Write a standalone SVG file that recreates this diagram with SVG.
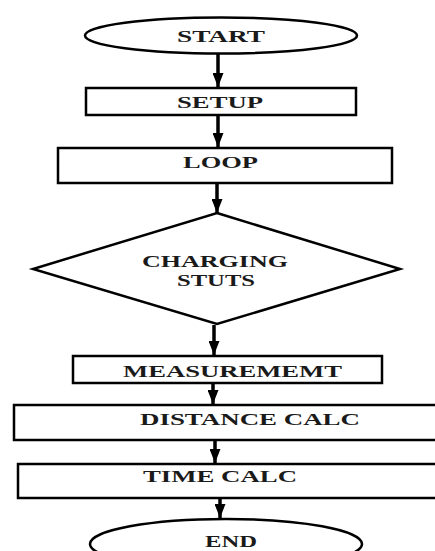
<svg xmlns="http://www.w3.org/2000/svg" width="435" height="551" viewBox="0 0 435 551">
<defs>
<style>
.shape{fill:#fff;stroke:#000;stroke-width:2.5}
.lbl{font-family:"Liberation Serif","Times New Roman",serif;font-weight:bold;font-size:17px;fill:#1a1a1a}
.conn line{stroke:#000;stroke-width:3.5}
</style>
<marker id="ah" viewBox="0 0 14 11" refX="14" refY="5.5" markerWidth="14" markerHeight="11" markerUnits="userSpaceOnUse" orient="auto">
<path d="M0,0 L14,5.5 L0,11 Z" fill="#000"/>
</marker>
</defs>
<rect width="435" height="551" fill="#fff"/>
<g id="start">
<ellipse class="shape" cx="221" cy="35.5" rx="136" ry="18"/>
<text class="lbl" x="177" y="42" textLength="88" lengthAdjust="spacingAndGlyphs">START</text>
</g>
<g id="setup">
<rect class="shape" x="86" y="88" width="270" height="27"/>
<text class="lbl" x="177" y="108" textLength="86" lengthAdjust="spacingAndGlyphs">SETUP</text>
</g>
<g id="loop">
<rect class="shape" x="58" y="148" width="334" height="35"/>
<text class="lbl" x="183" y="168" textLength="75" lengthAdjust="spacingAndGlyphs">LOOP</text>
</g>
<g id="charging">
<polygon class="shape" points="217,213 400,269 217,324 33,269"/>
<text class="lbl" x="142" y="267" textLength="146" lengthAdjust="spacingAndGlyphs">CHARGING</text>
<text class="lbl" x="177" y="286" textLength="78" lengthAdjust="spacingAndGlyphs">STUTS</text>
</g>
<g id="measurement">
<rect class="shape" x="73" y="356" width="309" height="27"/>
<text class="lbl" x="123" y="377" textLength="219" lengthAdjust="spacingAndGlyphs">MEASUREMEMT</text>
</g>
<g id="distance">
<rect class="shape" x="14" y="405" width="430" height="35"/>
<text class="lbl" x="140" y="425" textLength="220" lengthAdjust="spacingAndGlyphs">DISTANCE CALC</text>
</g>
<g id="time">
<rect class="shape" x="18" y="464" width="430" height="34"/>
<text class="lbl" x="143" y="482" textLength="154" lengthAdjust="spacingAndGlyphs">TIME CALC</text>
</g>
<g id="end">
<ellipse class="shape" cx="226" cy="544" rx="136" ry="25"/>
<text class="lbl" x="205" y="547" textLength="52" lengthAdjust="spacingAndGlyphs">END</text>
</g>
<g id="connectors" class="conn">
<line x1="218" y1="54" x2="218" y2="87" marker-end="url(#ah)"/>
<line x1="218" y1="116" x2="218" y2="147" marker-end="url(#ah)"/>
<line x1="217" y1="184" x2="217" y2="213" marker-end="url(#ah)"/>
<line x1="214" y1="325" x2="214" y2="355" marker-end="url(#ah)"/>
<line x1="213" y1="384" x2="213" y2="404" marker-end="url(#ah)"/>
<line x1="215" y1="441" x2="215" y2="463" marker-end="url(#ah)"/>
<line x1="220" y1="499" x2="220" y2="518" marker-end="url(#ah)"/>
</g>
</svg>
